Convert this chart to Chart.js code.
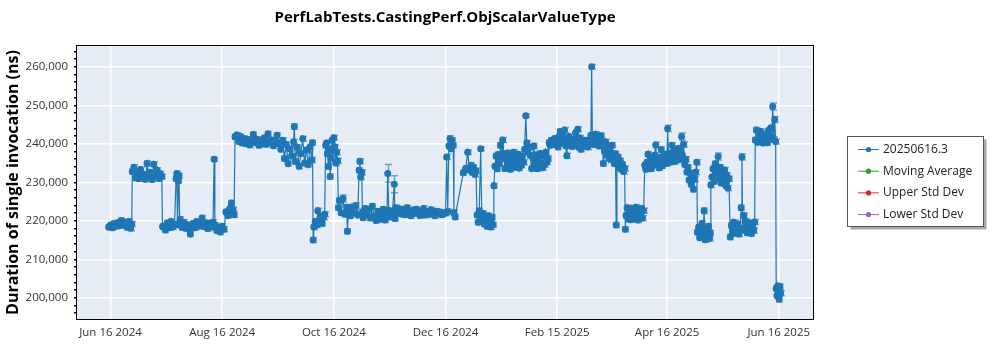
<!DOCTYPE html>
<html>
<head>
<meta charset="utf-8">
<title>PerfLabTests.CastingPerf.ObjScalarValueType</title>
<script src="https://cdn.jsdelivr.net/npm/chart.js@4.4.1/dist/chart.umd.min.js"></script>
<style>
    html, body { margin: 0; padding: 0; background: #ffffff; }
    #wrap { width: 1000px; height: 350px; }
</style>
</head>
<body>
<div id="wrap"><canvas id="perfChart" width="1000" height="350"></canvas></div>
<script>
"use strict";

// run offsets, in days after Jun 16 2024
var runDays = [
    -1, 0, 1, 2, 3, 4, 5, 6, 7, 8, 9, 10, 11, 11.6,
    11.9, 12.8, 13.7, 14.6, 15.5, 16.4, 17.3, 18.2, 19.1, 20, 20.9, 21.8, 22.7, 23.6, 24.5, 25.4, 26.3, 27.2, 28,
    28.4, 29, 30, 31, 32, 33, 34, 35, 35.8, 36.2, 36.6, 37.1, 37.4, 37.8, 38, 39, 40, 41, 42, 43, 43.6, 44, 45, 46, 47, 48, 49, 50,
    51, 52, 53, 54, 55, 56, 56.6, 57, 58, 59, 60, 61, 62, 63, 64, 65, 66, 66.5, 67, 67.5,
    68, 69, 70, 71, 72, 73, 74, 75, 76, 77, 78, 79, 80, 81, 82, 83, 84, 85, 86, 87, 88, 89, 90, 91, 92, 93, 94, 95, 96, 97, 98, 99, 100,
    100.4, 101, 102, 103, 104, 105, 106, 107, 108, 109, 110, 110.3, 110.7,
    111, 111.8, 112.6, 113.2, 114, 114.8, 115.6, 116.4, 117,
    117.5, 118, 118.5, 119, 119.5, 120, 120.5, 121, 121.5, 122, 122.5, 123, 123.5, 124,
    124.5, 125, 126, 127, 128, 129, 129.4, 130, 131, 132, 133, 134, 135, 135.8, 136.2, 136.6, 137.2, 137.6, 138, 139, 140, 141, 142, 143,
    144, 145, 146, 147, 148, 149, 150, 151, 151.4, 152, 153, 154, 155, 155.4, 156, 157, 158, 159, 160, 161, 162, 163, 164, 165, 166, 167,
    168, 169, 170, 171, 172, 173, 174, 175, 176, 177, 178, 179, 180, 181, 182,
    183, 183.6, 184.2, 184.8, 185.4, 186, 186.6, 187.2, 187.6, 188.2,
    192.7, 194, 195.1, 196, 196.8, 197.5, 198.2, 199, 199.6, 200.2, 200.8, 201.4, 202.2, 202.8, 203.5, 204.2, 204.9, 205.6, 206.3, 207, 207.7, 208.4, 209, 209.4,
    210, 210.6, 211.2, 211.8, 212.4, 213, 213.6, 214.2, 214.8, 215.4, 216, 216.6, 217.2, 217.8, 218.4, 219, 219.6, 220.2, 220.8, 221.4, 222, 222.6, 223.2, 223.8, 224.4,
    225, 225.6, 226.2, 226.8, 227.4, 228, 228.6, 229.2, 230, 230.6, 231.2, 231.8, 232.4, 233, 233.6, 234.2, 234.8, 235.4, 236, 236.6, 237.2, 237.8, 238.4, 239,
    239.6, 240.2, 240.8, 241.4, 242, 242.6, 243.2, 243.8, 244.4, 245, 245.6, 246.2, 246.8, 247.4, 248, 248.6, 249.2, 249.8, 250.4, 251, 251.6, 252.2, 252.8, 253.4, 254,
    254.6, 255.2, 255.8, 256.4, 257, 257.6, 258.2, 258.8, 259.4, 260, 260.6, 261.2, 261.8, 262.4, 262.8, 263.2, 263.8, 264.4, 265, 265.6, 266.2, 266.8, 267.4, 268,
    268.6, 269.2, 269.8, 270.4, 271, 271.6, 272.2, 272.8, 273.4, 274, 274.6, 275.2, 275.8, 276.2, 276.6, 277.2, 277.8, 278.4, 279, 279.6, 280.2, 280.8,
    281.2, 281.6, 282.2, 282.8, 283.4, 284, 284.6, 285.2, 285.8, 286.4, 287, 287.6, 288.2, 288.8, 289.4, 290, 290.6, 291.2,
    291.8, 292.4, 293, 293.6, 294.2, 294.8, 295.4, 296, 296.6, 297.2, 297.8, 298.4, 299, 299.6, 300.2, 300.8, 301.4, 302, 302.6, 303.2, 303.8,
    304.3, 304.8, 305.4, 306, 306.6, 307.2, 307.8, 308.4, 309, 309.6, 310.2, 310.8, 311.4, 311.9, 312.4, 313, 313.6, 314.2, 314.8, 315.4, 316, 316.6, 317.2, 317.8,
    318.4, 319, 319.6, 320.2,
    320.6, 321.2, 321.8, 322.4, 323, 323.6, 324.2, 324.8, 325.4, 326, 326.6, 327.2, 327.6,
    327.9, 328.5, 329.1, 329.7, 330.3, 330.9, 331.5, 331.9, 332.4, 333, 333.6, 334.2, 334.8, 335.4, 336, 336.6, 337.2, 337.8,
    338.5, 339.1, 339.7, 340.3, 340.9, 341.5, 342.1, 342.7, 343.3, 343.9, 344.5, 344.9, 345.3, 345.9, 346.5, 347.1, 347.7, 348.3, 348.9, 349.5, 350.1, 350.7, 351.3, 351.8,
    352.2, 352.8, 353.4, 354, 354.6, 355.2, 355.8, 356.4, 357, 357.6, 358.2, 358.8, 359.4, 360, 360.6, 361.2, 361.7, 362.2, 362.8, 363.3,
    363.6, 364, 364.4, 364.8, 365.2, 365.6, 366
];

// duration of a single invocation, ns
var durations = [
    218400, 218900, 218200, 219300, 218600, 219500, 218700, 220100, 219000, 219600, 218300, 219800, 218100, 219200,
    232800, 233900, 231200, 232400, 230900, 233300, 231600, 232100, 230800, 234900, 231400, 232600, 230700, 234700, 231900, 233100, 231000, 232200, 231500,
    218500, 218600, 217600, 219400, 218200, 219800, 218400, 219100, 231000, 232300, 219000, 230400, 231700, 219400, 220400, 218300, 219600, 218100, 219000, 217900, 216600, 218700, 219300, 218200, 219800, 218600, 219200, 220700,
    218500, 219500, 218000, 219300, 218400, 219600, 236000, 218900, 217500, 218300, 217100, 218600, 217800, 222300, 221400, 223100, 224600, 221800, 222900, 221600,
    241800, 242300, 240600, 241900, 240200, 241400, 240000, 241100, 239700, 240900, 242400, 240300, 241200, 239600, 240800, 240100, 241500, 239900, 242600, 240400, 241000, 239500, 240700, 242200, 240000, 238600, 240900, 236200, 239800, 234900, 238700, 236800, 240500,
    244500, 235400, 239100, 234200, 237500, 241300, 235000, 238400, 234600, 239200, 235800, 240300, 215000,
    218400, 219800, 218900, 222600, 220100, 221200, 219300, 220900, 221700,
    239600, 240200, 237400, 234100, 238600, 231500, 236300, 240900, 238100, 241600, 239200, 235000, 237800, 235600,
    223400, 225300, 222100, 225800, 221700, 223500, 217300, 222800, 221300, 223600, 222000, 224000, 221500, 233100, 235500, 231400, 232600, 222300, 220800, 223200, 221600, 222900, 220700, 223800,
    221200, 220100, 222500, 220400, 221800, 223000, 220200, 221400, 232300, 222700, 221000, 222200, 229500, 220600, 223400, 222000, 223100, 221800, 222900, 221600, 223400, 222200, 221300, 222800, 221900, 223000,
    222100, 221400, 222600, 223200, 221500, 222400, 221700, 222900, 222000, 221300, 222500, 221800, 222300, 221600, 222000,
    222000, 236600, 222400, 239400, 241300, 238700, 240900, 239600, 222100, 221000,
    232500, 233600, 237800, 233200, 234400, 232600, 233900, 232100, 233000, 221500, 219600, 222600, 238700, 220700, 221900, 219200, 220600, 218600, 221300, 219800, 218400, 220900, 219000, 229100,
    234200, 236800, 233500, 237200, 234800, 239600, 236100, 241000, 237400, 233600, 236500, 234000, 237600, 235200, 233400, 236900, 234500, 237800, 233900, 236200, 234700, 237300, 233700, 236000, 234400,
    236800, 235200, 238600, 247300, 240200, 237900, 239100, 237000, 233600, 236400, 239400, 234800, 237100, 233500, 236600, 234200, 237500, 235000, 233800, 236900, 234600, 237800, 235300, 236200,
    240300, 239600, 240900, 239800, 240600, 241400, 239900, 240400, 239200, 241800, 243200, 240600, 242600, 240100, 243600, 239500, 236900, 240800, 241900, 239600, 240700, 239300, 241200, 239800, 242900,
    240300, 243800, 239100, 241500, 238600, 240200, 239400, 240900, 239600, 240400, 239200, 241000, 240200, 242200, 260000, 241300, 239800, 240700, 242500, 240100, 241600, 239400, 240800, 242100,
    239600, 234900, 238200, 240500, 237100, 239300, 236200, 238800, 235900, 239600, 236800, 234900, 237400, 218900, 235100, 236600, 233900, 235600, 233400, 234700, 232800, 233600,
    217800, 221400, 223400, 220600, 222200, 220300, 223200, 221000, 222400, 220500, 223500, 221600, 220200, 222800, 221200, 223200, 220700, 222600,
    234400, 233400, 235200, 237300, 234000, 235800, 233600, 236200, 234500, 237000, 239700, 234800, 236500, 233800, 235900, 238500, 234300, 236400, 235100, 237300, 234900,
    244000, 236100, 237600, 235300, 239600, 236600, 238300, 235500, 237800, 236300, 238800, 235900, 237200, 241900, 236800, 239800, 234600, 236000, 232700, 233900, 230600, 232400, 229500, 231800,
    228200, 230800, 232600, 235200,
    217000, 218300, 215600, 217500, 219300, 216200, 222600, 215100, 217800, 216000, 218600, 215400, 216900,
    229300, 231400, 233500, 230200, 234800, 232100, 233600, 236700, 231000, 233900, 229800, 232600, 230400, 233200, 229200, 231800, 228500, 230900,
    215800, 218800, 217200, 219600, 216800, 218400, 217000, 219200, 216600, 218100, 223400, 236600, 217600, 221400, 218000, 219800, 216900, 218500, 217300, 219400, 216700, 218900, 217500, 219700,
    241000, 243600, 240400, 242800, 240900, 243200, 241300, 240200, 242400, 240700, 241800, 240300, 243500, 241100, 244100, 241600, 249700, 241200, 246300, 240600,
    202400, 200600, 203100, 201800, 199600, 202900, 201200
];

// spread (± ns) of runs whose error bar stands out; the rest use typicalError
var errorDays    = [ 13.7, 20, 25.4, 56.6, 86, 100.4, 122, 127, 151.4, 155, 185.4, 195.1, 202.2, 226.8, 262.8, 297.8, 304.3, 311.9, 324.2, 331.9, 344.9, 361.7, 362.8 ];
var errorSizes   = [ 700, 700, 700, 500, 600, 700, 600, 900, 2300, 2200, 800, 600, 500, 500, 600, 700, 800, 900, 700, 900, 800, 900, 800 ];
var typicalError = 650;

var xTickDays   = [ 0, 61, 122, 183, 244, 304, 365 ];
var xTickLabels = [ "Jun 16 2024", "Aug 16 2024", "Oct 16 2024", "Dec 16 2024", "Feb 15 2025", "Apr 16 2025", "Jun 16 2025" ];
var yTicks      = [ 200000, 210000, 220000, 230000, 240000, 250000, 260000 ];

var seriesNames  = [ "20250616.3", "Moving Average", "Upper Std Dev", "Lower Std Dev" ];
var seriesColors = [ "#1f77b4", "#2ca02c", "#d62728", "#9467bd" ];

var FONT = "'Open Sans', 'Noto Sans', sans-serif";

var plotBackground = {
    id        : "plotBackground",
    beforeDraw: function (chart) {
        var a = chart.chartArea, ctx = chart.ctx;
        ctx.save();
        ctx.fillStyle = "#e5ecf6";
        ctx.fillRect(a.left, a.top, a.right - a.left, a.bottom - a.top);
        ctx.restore();
    }
};

var errorBars = {
    id               : "errorBars",
    afterDatasetsDraw: function (chart) {
        var ctx = chart.ctx, xs = chart.scales.x, ys = chart.scales.y;
        var a = chart.chartArea;
        ctx.save();
        ctx.beginPath();
        ctx.rect(a.left, a.top, a.right - a.left, a.bottom - a.top);
        ctx.clip();
        ctx.strokeStyle = "rgba(31,119,180,0.6)";
        ctx.lineWidth = 1.5;
        runDays.forEach(function (d, i) {
            var k = errorDays.indexOf(d);
            var err = k < 0 ? typicalError : errorSizes[ k ];
            var px = Math.round(xs.getPixelForValue(d)) + 0.5;
            var top = ys.getPixelForValue(durations[ i ] + err);
            var bot = ys.getPixelForValue(durations[ i ] - err);
            ctx.beginPath();
            ctx.moveTo(px, top); ctx.lineTo(px, bot);
            ctx.moveTo(px - 3.5, top); ctx.lineTo(px + 3.5, top);
            ctx.moveTo(px - 3.5, bot); ctx.lineTo(px + 3.5, bot);
            ctx.stroke();
        });
        ctx.restore();
    }
};

var frameAndLegend = {
    id       : "frameAndLegend",
    afterDraw: function (chart) {
        var a = chart.chartArea, ctx = chart.ctx;
        ctx.save();
        ctx.strokeStyle = "#000000";
        ctx.lineWidth = 1;
        ctx.strokeRect(Math.round(a.left) - 0.5, Math.round(a.top) - 0.5, Math.round(a.right - a.left) + 1, Math.round(a.bottom - a.top) + 1);

        // legend box with drop shadow
        var bx = 847.5, by = 136.5, bw = 136, bh = 90;
        ctx.fillStyle = "#a8a8a8";
        ctx.fillRect(bx + 3, by + 3, bw, bh);
        ctx.fillStyle = "#ffffff";
        ctx.fillRect(bx, by, bw, bh);
        ctx.strokeStyle = "#555555";
        ctx.strokeRect(bx, by, bw, bh);

        ctx.font = "12px " + FONT;
        ctx.textBaseline = "middle";
        chart.data.datasets.forEach(function (ds, i) {
            var yy = 149.5 + i * 21.7;
            ctx.strokeStyle = ds.borderColor;
            ctx.lineWidth = 1;
            ctx.beginPath();
            ctx.moveTo(858, yy); ctx.lineTo(879, yy);
            ctx.stroke();
            ctx.fillStyle = ds.borderColor;
            ctx.beginPath();
            ctx.arc(868.5, yy, 2.6, 0, Math.PI * 2);
            ctx.fill();
            ctx.fillStyle = "#222222";
            ctx.fillText(ds.label, 883, yy);
        });
        ctx.restore();
    }
};

var points = runDays.map(function (d, i) {
    return { x: d, y: durations[ i ] };
});

var datasets = seriesNames.map(function (name, i) {
    return {
        label               : name,
        data                : i === 0 ? points : [],
        borderColor         : seriesColors[ i ],
        backgroundColor     : seriesColors[ i ],
        pointBackgroundColor: seriesColors[ i ],
        borderWidth         : 1.2,
        pointRadius         : 3.5,
        pointBorderWidth    : 0,
        tension             : 0
    };
});

new Chart(document.getElementById("perfChart"), {
    type   : "line",
    data   : { datasets: datasets },
    plugins: [ plotBackground, errorBars, frameAndLegend ],
    options: {
        responsive: false,
        animation : false,
        layout    : { padding: { left: 4, right: 187, top: 0, bottom: 0 } },
        plugins   : {
            legend : { display: false },
            tooltip: { enabled: false },
            title  : {
                display : true,
                text    : "PerfLabTests.CastingPerf.ObjScalarValueType",
                color   : "#000000",
                fullSize: false,
                font    : { family: FONT, size: 15, weight: "bold" },
                padding : { top: 9, bottom: 19 }
            }
        },
        scales    : {
            x: {
                type           : "linear",
                min            : -18.3,
                max            : 383.7,
                afterBuildTicks: function (scale) {
                    scale.ticks = xTickDays.map(function (v) { return { value: v }; });
                },
                afterFit       : function (scale) { scale.height = 31; },
                ticks          : {
                    autoSkip   : false,
                    maxRotation: 0,
                    padding    : 7,
                    color      : "#333333",
                    font       : { family: FONT, size: 11.5 },
                    callback   : function (v) {
                        var k = xTickDays.indexOf(v);
                        return k < 0 ? "" : xTickLabels[ k ];
                    }
                },
                grid           : { color: "#ffffff", lineWidth: 1.5, drawTicks: false },
                border         : { display: false }
            },
            y: {
                min            : 194500,
                max            : 265400,
                afterBuildTicks: function (scale) {
                    var t = [];
                    for (var v = 196000; v <= 264000; v += 2000) t.push({ value: v });
                    scale.ticks = t;
                },
                afterFit       : function (scale) { scale.width = 73; },
                title          : {
                    display: true,
                    text   : "Duration of single invocation (ns)",
                    color  : "#000000",
                    font   : { family: FONT, size: 16, weight: "bold" },
                    padding: { top: 0, bottom: 2 }
                },
                ticks          : {
                    autoSkip: false,
                    padding : 6,
                    color   : "#333333",
                    font    : { family: FONT, size: 11.5 },
                    callback: function (v) {
                        return yTicks.indexOf(v) < 0 ? "" : v.toLocaleString("en-US");
                    }
                },
                grid           : {
                    color     : function (c) { return c.tick && yTicks.indexOf(c.tick.value) >= 0 ? "#ffffff" : "rgba(0,0,0,0)"; },
                    tickColor : "#000000",
                    tickLength: 3,
                    lineWidth : 1.5
                },
                border         : { display: false }
            }
        }
    }
});
</script>
</body>
</html>
